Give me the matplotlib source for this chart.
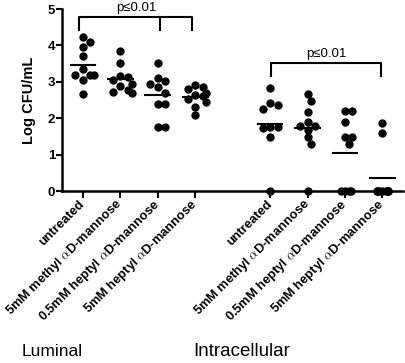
import numpy as np
import matplotlib.pyplot as plt

plt.rcParams['font.family'] = ['Liberation Sans', 'DejaVu Sans']
plt.rcParams['mathtext.fontset'] = 'cm'

# treatments (same four in each compartment)
treatments = ['untreated',
              '5mM methyl $\\alpha$D-mannose',
              '0.5mM heptyl $\\alpha$D-mannose',
              '5mM heptyl $\\alpha$D-mannose']
compartments = ['Luminal', 'Intracellular']

# log CFU/mL
luminal = [
    [4.22, 4.08, 3.95, 3.72, 3.35, 3.20, 3.20, 3.18, 3.05, 2.66],
    [3.85, 3.51, 3.15, 3.12, 3.05, 2.95, 2.88, 2.78, 2.72, 2.70],
    [3.52, 3.10, 3.03, 2.95, 2.85, 2.70, 2.38, 2.38, 1.77, 1.77],
    [2.90, 2.85, 2.80, 2.70, 2.65, 2.60, 2.52, 2.45, 2.32, 2.08],
]
intracellular = [
    [2.82, 2.41, 2.36, 2.25, 1.77, 1.77, 1.73, 1.47, 0.0],
    [2.66, 2.47, 2.16, 1.90, 1.79, 1.79, 1.68, 1.47, 1.29, 0.0],
    [2.20, 2.20, 1.90, 1.47, 1.47, 1.28, 0.0, 0.0, 0.0, 0.0],
    [1.88, 1.58, 0.0, 0.0, 0.0, 0.0, 0.0, 0.0, 0.0, 0.0],
]
positions = [0, 1, 2, 3, 5, 6, 7, 8]
p_text = 'p\u22640.01'

PX_X = 37.5   # pixels per x unit
PX_Y = 36.4   # pixels per y unit


def swarm(vals, d=7.5, cap=0.3, cap0=0.2):
    """simple beeswarm offsets (x units)"""
    vals = np.asarray(vals, float)
    order = np.argsort(-vals)
    placed = []
    offs = np.zeros(len(vals))
    for i in order:
        y = vals[i] * PX_Y
        k = 0
        found = None
        while found is None:
            for s in ([0] if k == 0 else [k, -k]):
                x = s * d * 0.5
                if all((x - px) ** 2 + (y - py) ** 2 >= d * d for px, py in placed):
                    found = x
                    break
            k += 1
        placed.append((found, y))
        offs[i] = found / PX_X
    offs = np.clip(offs, -cap, cap)
    # points sitting on the axis are packed tighter
    zero = vals == 0
    offs[zero] = np.clip(offs[zero] * 0.5, -cap0, cap0)
    return offs


fig = plt.figure(figsize=(4.06, 3.63), dpi=100)
ax = fig.add_axes([62 / 406, 172 / 363, 341 / 406, 182 / 363])

groups = luminal + intracellular
for pos, vals in zip(positions, groups):
    offs = swarm(vals)
    ax.scatter(pos + offs, vals, s=36, color='black', zorder=3, clip_on=False,
               linewidths=0)
    m = np.mean(vals)
    ax.plot([pos - 0.33, pos + 0.33], [m, m], color='black', lw=1.5, zorder=4)

ax.set_xlim(-0.56, 8.55)
ax.set_ylim(0, 5)
ax.set_yticks([0, 1, 2, 3, 4, 5])
ax.set_xticks(positions)
ax.set_xticklabels(treatments * 2, rotation=45, ha='right', va='center',
                   rotation_mode='anchor', fontsize=9.3, fontweight='bold')
for lab in ax.get_yticklabels():
    lab.set_fontweight('bold')
    lab.set_fontsize(9.5)
ax.tick_params(axis='both', width=1.5, length=4, direction='out')
ax.tick_params(axis='x', length=5, pad=3)
ax.tick_params(axis='y', pad=1)
for s in ['top', 'right']:
    ax.spines[s].set_visible(False)
for s in ['left', 'bottom']:
    ax.spines[s].set_linewidth(1.8)

ax.set_ylabel('Log CFU/mL', fontweight='bold', fontsize=10.5)
ax.yaxis.set_label_coords(-0.076, 0.5)

# significance brackets
kw = dict(color='black', lw=1.5, clip_on=False)
ax.plot([-0.1, -0.1, 2.9, 2.9], [4.42, 4.77, 4.77, 4.42], **kw)
ax.plot([2.05, 2.05], [4.77, 4.42], **kw)
ax.text(1.42, 4.86, p_text, ha='center', va='bottom', fontsize=9.5)

ax.plot([5.02, 5.02, 7.95, 7.95], [3.16, 3.51, 3.51, 3.16], **kw)
ax.text(6.5, 3.6, p_text, ha='center', va='bottom', fontsize=9.5)

fig.text(22 / 406, 1 - 352 / 363, compartments[0], ha='left', va='center', fontsize=12.5)
fig.text(193 / 406, 1 - 352 / 363, compartments[1], ha='left', va='center', fontsize=13.5)

fig.savefig('out.png', dpi=100)
